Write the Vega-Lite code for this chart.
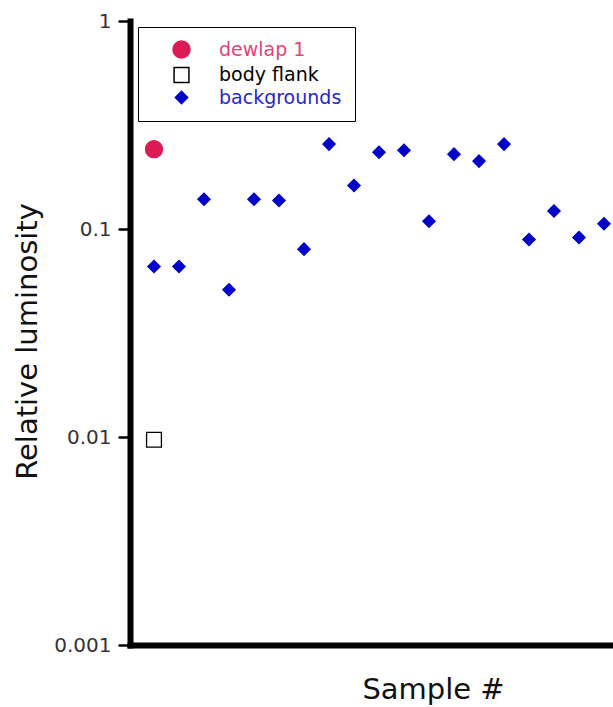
{
  "$schema": "https://vega.github.io/schema/vega-lite/v6.json",
  "width": 483,
  "height": 624,
  "autosize": {"type": "none"},
  "padding": {"left": 130, "top": 21, "right": 0, "bottom": 62},
  "background": "white",
  "config": {"view": {"stroke": null}, "font": "DejaVu Sans"},
  "data": {
    "values": [
      {"sample": 1, "value": 0.242, "type": "dewlap 1"},
      {"sample": 1, "value": 0.0097, "type": "body flank"},
      {"sample": 1, "value": 0.066, "type": "backgrounds"},
      {"sample": 2, "value": 0.066, "type": "backgrounds"},
      {"sample": 3, "value": 0.139, "type": "backgrounds"},
      {"sample": 4, "value": 0.051, "type": "backgrounds"},
      {"sample": 5, "value": 0.139, "type": "backgrounds"},
      {"sample": 6, "value": 0.137, "type": "backgrounds"},
      {"sample": 7, "value": 0.080, "type": "backgrounds"},
      {"sample": 8, "value": 0.256, "type": "backgrounds"},
      {"sample": 9, "value": 0.162, "type": "backgrounds"},
      {"sample": 10, "value": 0.234, "type": "backgrounds"},
      {"sample": 11, "value": 0.239, "type": "backgrounds"},
      {"sample": 12, "value": 0.109, "type": "backgrounds"},
      {"sample": 13, "value": 0.229, "type": "backgrounds"},
      {"sample": 14, "value": 0.212, "type": "backgrounds"},
      {"sample": 15, "value": 0.256, "type": "backgrounds"},
      {"sample": 16, "value": 0.089, "type": "backgrounds"},
      {"sample": 17, "value": 0.122, "type": "backgrounds"},
      {"sample": 18, "value": 0.091, "type": "backgrounds"},
      {"sample": 19, "value": 0.106, "type": "backgrounds"}
    ]
  },
  "mark": {"type": "point", "opacity": 1, "strokeWidth": 1.3},
  "encoding": {
    "x": {
      "field": "sample",
      "type": "quantitative",
      "scale": {"domain": [0.04, 19.36], "nice": false, "zero": false},
      "axis": {
        "title": "Sample #",
        "labels": false,
        "ticks": false,
        "grid": false,
        "domainWidth": 6,
        "domainColor": "black",
        "domainCap": "square",
        "titleFont": "DejaVu Sans",
        "titleFontSize": 29,
        "titleFontWeight": "normal",
        "titleColor": "#111111",
        "titleX": 303,
        "titleY": 44,
        "titleBaseline": "middle"
      }
    },
    "y": {
      "field": "value",
      "type": "quantitative",
      "scale": {"type": "log", "domain": [0.001, 1], "nice": false},
      "axis": {
        "title": "Relative luminosity",
        "values": [0.001, 0.01, 0.1, 1],
        "format": "~g",
        "grid": false,
        "domainWidth": 6,
        "domainColor": "black",
        "domainCap": "square",
        "tickColor": "black",
        "tickSize": 12,
        "tickWidth": 2.5,
        "labelFont": "DejaVu Sans",
        "labelFontSize": 20,
        "labelColor": "#333333",
        "labelPadding": 7,
        "labelOverlap": false,
        "titleFont": "DejaVu Sans",
        "titleFontSize": 29,
        "titleFontWeight": "normal",
        "titleColor": "#111111",
        "titleX": -103,
        "titleY": 320,
        "titleBaseline": "middle"
      }
    },
    "fill": {
      "field": "type",
      "type": "nominal",
      "scale": {"domain": ["dewlap 1", "body flank", "backgrounds"], "range": ["#dc1a55", "#ffffff", "#0000c8"]},
      "legend": {
        "title": null,
        "orient": "none",
        "legendX": 8,
        "legendY": 6,
        "strokeColor": "black",
        "padding": 13,
        "rowPadding": 2.5,
        "labelFont": "DejaVu Sans",
        "labelFontSize": 19,
        "symbolOffset": 21,
        "labelOffset": 28,
        "labelColor": {"expr": "datum.value === 'dewlap 1' ? '#e0457a' : datum.value === 'backgrounds' ? '#2828c8' : '#000000'"}
      }
    },
    "stroke": {
      "field": "type",
      "type": "nominal",
      "scale": {"domain": ["dewlap 1", "body flank", "backgrounds"], "range": ["#dc1a55", "#000000", "#0000c8"]}
    },
    "shape": {
      "field": "type",
      "type": "nominal",
      "scale": {"domain": ["dewlap 1", "body flank", "backgrounds"], "range": ["circle", "square", "diamond"]}
    },
    "size": {
      "field": "type",
      "type": "nominal",
      "scale": {"domain": ["dewlap 1", "body flank", "backgrounds"], "range": [290, 150, 215]}
    }
  }
}
